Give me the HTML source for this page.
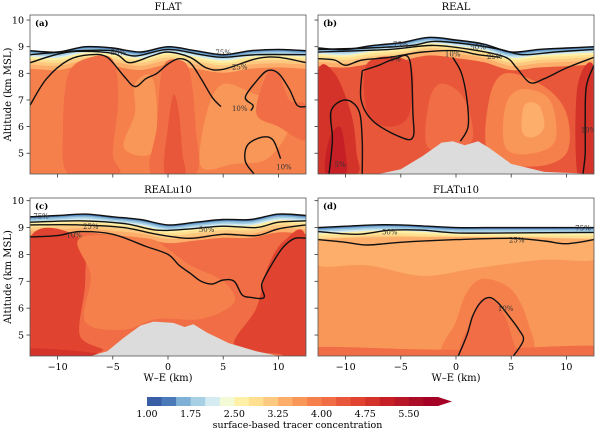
<!DOCTYPE html>
<html><head><meta charset="utf-8"><style>
html,body{margin:0;padding:0;background:#fff}
svg{display:block;font-family:"DejaVu Serif","Liberation Serif",serif}
</style></head><body>
<svg id="fig" width="600" height="433" viewBox="0 0 600 433" xmlns="http://www.w3.org/2000/svg"></svg>
<script>
// ---------- data ----------
const xGrid = [-12.5,-10,-7.5,-5,-2.5,0,2.5,5,7.5,10,12.5];
const topA = [8.85,8.8,9.0,8.95,8.8,9.0,8.85,8.7,8.85,8.9,8.85];
const topB = [8.95,8.9,9.05,9.15,9.35,9.25,9.1,8.8,8.9,8.95,9.0];
const topC = [9.4,9.45,9.5,9.4,9.3,9.1,9.2,9.3,9.3,9.5,9.45];
const topD = [9.0,9.05,9.1,9.1,9.05,9.0,9.0,9.0,9.0,9.0,9.0];
const levels = [1.0,1.25,1.5,1.75,2.0,2.25,2.5,2.75,3.0,3.25,3.5,3.75,4.0,4.25,4.5,4.75,5.0,5.25,5.5,5.75];
const cbTicks = [1.0,1.75,2.5,3.25,4.0,4.75,5.5];
const bandDepth = [0,0.05,0.1,0.16,0.22,0.3,0.4,0.52,0.68];
const bandLevel = [1.25,1.5,1.75,2.0,2.5,2.75,3.0,3.25,3.5];
const baseLevel = {a:3.75,b:4.25,c:4.0,d:3.5};
const patchesA = [
 {lv:4.0,pts:[[-9,4.22],[-9.5,6],[-9,8],[-7,8.6],[-5,8.5],[-4.5,7],[-5,5],[-4.5,4.22]]},
 {lv:3.5,pts:[[-4,5.2],[-3,6.5],[-3,7.6],[-1.5,7.9],[-1,6.5],[-1.5,5]]},
 {lv:3.5,pts:[[3,4.5],[3.5,6.5],[5,7.6],[8,7.2],[10,7.0],[11,6],[9,4.8],[6,4.6]]},
 {lv:4.0,pts:[[-1.5,4.22],[-1,6],[-0.5,8.2],[1,8.5],[2,8],[2.5,6],[2.5,4.22]]},
 {lv:4.25,pts:[[-0.3,4.22],[0,6],[0.5,7.2],[1,6.5],[1.3,5],[1.5,4.22]]},
 {lv:4.0,pts:[[8,6.5],[9,8],[10,8],[11,7],[12.5,6.8],[12.5,5.5],[10,6]]}
];
const patchesB = [
 {lv:4.75,pts:[[-12.5,4.22],[-12.5,8],[-11,8],[-9.5,6.5],[-9,5],[-9,4.22]]},
 {lv:5.0,pts:[[-11.8,4.22],[-11.5,5.5],[-10.5,6],[-10,5],[-10,4.22]]},
 {lv:4.5,pts:[[-8,8.4],[-8,6.5],[-6,6],[-4.2,6.5],[-4.2,8.4]]},
 {lv:4.0,pts:[[-2.5,5.2],[-2.5,6.8],[-1.5,7.6],[0.5,7.2],[1.5,6],[1,5.3]]},
 {lv:3.75,pts:[[3,4.9],[3,7],[4.5,8],[8,7.5],[10,6.5],[10,5],[7,4.5]]},
 {lv:3.5,pts:[[4.5,5.2],[4.5,6.8],[6,7.4],[8.5,7],[9,5.5],[7,5]]},
 {lv:3.25,pts:[[6,5.8],[6.2,6.8],[7.5,6.8],[8,6],[7,5.6]]},
 {lv:4.75,pts:[[11,4.22],[11,7.5],[12.5,8.2],[12.5,4.22]]}
];
const patchesC = [
 {lv:4.5,pts:[[-12.5,4.22],[-12.5,8.6],[-8,8.6],[-7.5,7],[-8,5],[-6,4.4]]},
 {lv:3.75,pts:[[-8,8.6],[-7,7.2],[-7.5,5.5],[-4,5.2],[-1,5.6],[3,5.6],[6,6.2],[5,7],[2,7.6],[0,8.2],[-2,8.6]]},
 {lv:4.5,pts:[[6,4.6],[8,6],[9,7.5],[10.5,8.5],[12.5,8.6],[12.5,4.22],[10,4.3]]},
 {lv:4.75,pts:[[-12.5,4.22],[-12.5,4.5],[-8,4.4],[-6,4.22]]}
];
const patchesD = [
 {lv:3.25,pts:[[-12.5,8.55],[-12.5,7.6],[-8,7.6],[-3,7.2],[2,7.5],[8,7.8],[12.5,7.8],[12.5,8.55]]},
 {lv:3.75,pts:[[-1,4.22],[0,5.5],[1,6.6],[2.5,7.1],[5,6.7],[6.5,5.5],[6.5,4.22]]},
 {lv:4.0,pts:[[0.5,4.22],[1.3,5.5],[2.5,6.4],[4,6],[5,5],[5,4.22]]},
 {lv:4.0,pts:[[-12.5,4.22],[-12.5,4.55],[0,4.45],[12.5,4.6],[12.5,4.22]]}
];
const terrainB = [[-12.5,4.22],[-7,4.22],[-5,4.4],[-3,4.9],[-1.3,5.4],[-0.3,5.45],[0.8,5.3],[2,5.45],[3,5.2],[5,4.6],[8,4.3],[12.5,4.22]];
const terrainC = [[-7,4.22],[-5.5,4.4],[-4,4.9],[-2.5,5.35],[-1.3,5.5],[0.5,5.45],[1.5,5.3],[2.3,5.4],[3.5,5.1],[5.5,4.7],[8,4.4],[10,4.22]];
const contA = [
 {lab:"10%",lx:6.5,lz:6.7,pts:[[-12.5,6.8],[-11,7.8],[-9,8.5],[-7,8.7],[-5.5,8.6],[-4,7.9],[-3,7.5],[-2,7.8],[-1,8.0],[0,8.35],[1,8.55],[2,8.4],[3,7.8],[4,7.1],[4.8,6.75]]},
 {lab:"",pts:[[12.5,6.75],[11.7,6.8],[11,7.4],[10,8.0],[9,8.1],[8,7.7],[7,7.1],[7.7,6.8],[7.5,6.6]]},
 {lab:"10%",lx:10.5,lz:4.5,pts:[[7.8,4.22],[7,4.7],[7.2,5.3],[8.5,5.6],[9.5,5.5],[10.2,4.8]]},
 {lab:"25%",lx:6.5,lz:8.25,pts:[[-12.5,8.4],[-9,8.8],[-5,8.75],[-3.5,8.4],[-1.5,8.65],[0,8.8],[2,8.6],[3.5,8.2],[5,8.15],[8,8.55],[10,8.6],[12.5,8.4]]},
 {lab:"50%",lx:-4.5,lz:8.8,pts:[[-12.5,8.7],[-8,8.85],[-5,8.85],[-3,8.65],[0,8.9],[3,8.7],[5,8.6],[8,8.7],[12.5,8.7]]},
 {lab:"75%",lx:5,lz:8.8,pts:[[-12.5,8.85],[-10,8.8],[-7.5,9.0],[-5,8.95],[-2.5,8.8],[0,9.0],[2.5,8.85],[5,8.7],[7.5,8.85],[10,8.9],[12.5,8.85]]}
];
const contB = [
 {lab:"5%",lx:-5.5,lz:8.55,pts:[[-12.5,8.55],[-11,8.5],[-10,8.3],[-8.5,8.5],[-6,8.6],[-3,8.8],[0,8.85],[2,8.7],[4,8.6]]},
 {lab:"5%",lx:-10.5,lz:4.6,pts:[[-11.5,4.22],[-11.2,5.5],[-11.3,6.6],[-10,7.0],[-8.8,6.6],[-8.5,5.5],[-8.5,4.22]]},
 {lab:"",pts:[[-8.5,8.1],[-8.6,7.0],[-7.5,6.2],[-5,5.6],[-3.9,5.6],[-3.9,6.5],[-4.2,8.5],[-5.5,8.55],[-7,8.3],[-8.5,8.1]]},
 {lab:"10%",lx:-0.3,lz:8.75,pts:[[-0.3,8.6],[0.5,8.0],[1.0,7.0],[1.1,6.0],[0.4,5.45]]},
 {lab:"10%",lx:12,lz:5.9,pts:[[12.5,8.3],[11.8,7.5],[11.7,6.2],[11.7,5],[11.5,4.22]]},
 {lab:"25%",lx:3.5,lz:8.65,pts:[[-12.5,8.8],[-6,8.9],[-2,9.05],[2,8.85],[4.5,8.6],[5.5,8.2],[6.7,7.65],[8,7.8],[10,8.2],[12.5,8.6]]},
 {lab:"50%",lx:2,lz:9.0,pts:[[-12.5,8.9],[-8,8.95],[-4,9.05],[-2,9.2],[1,9.1],[4,8.9],[6,8.7],[9,8.8],[12.5,8.9]]},
 {lab:"75%",lx:-5,lz:9.1,pts:[[-12.5,8.95],[-10,8.9],[-7.5,9.05],[-5,9.15],[-2.5,9.35],[0,9.25],[2.5,9.1],[5,8.8],[7.5,8.9],[10,8.95],[12.5,9.0]]}
];
const contC = [
 {lab:"10%",lx:-8.5,lz:8.75,pts:[[-12.5,8.65],[-10,8.7],[-8,8.85],[-5,8.75],[-2,8.3],[0,8.0],[1,7.6],[2,7.3],[3,7.0],[4,6.9],[5,7.05],[6,7.0],[6.7,6.5],[7.5,6.4],[8.7,6.4],[8.5,6.9],[9.5,7.7],[10.5,8.3],[11.5,8.6],[12.5,8.6]]},
 {lab:"25%",lx:-7,lz:9.05,pts:[[-12.5,9.1],[-8,9.1],[-4,9.0],[-1,8.75],[2,8.6],[5,8.75],[8,8.7],[10,8.95],[12.5,9.1]]},
 {lab:"50%",lx:3.5,lz:8.95,pts:[[-12.5,9.2],[-8,9.25],[-4,9.15],[-1,8.9],[2,8.95],[5,9.05],[8,9.0],[10,9.2],[12.5,9.25]]},
 {lab:"75%",lx:-11.5,lz:9.45,pts:[[-12.5,9.4],[-10,9.45],[-7.5,9.5],[-5,9.4],[-2.5,9.3],[0,9.1],[2.5,9.2],[5,9.3],[7.5,9.3],[10,9.5],[12.5,9.45]]}
];
const contD = [
 {lab:"10%",lx:4.5,lz:6.0,pts:[[0.2,4.22],[1.0,5.0],[1.5,5.7],[2.2,6.2],[3,6.4],[3.8,6.2],[4.8,5.7],[5.7,5.2],[6.1,4.8],[5.2,4.22]]},
 {lab:"25%",lx:5.5,lz:8.55,pts:[[-12.5,8.55],[-10,8.45],[-8,8.35],[-5,8.45],[0,8.55],[5,8.6],[8,8.5],[10,8.4],[12.5,8.55]]},
 {lab:"50%",lx:-6,lz:8.85,pts:[[-12.5,8.85],[-9,8.75],[-6,8.9],[-3,8.9],[0,8.8],[5,8.8],[12.5,8.82]]},
 {lab:"75%",lx:11.5,lz:9.0,pts:[[-12.5,9.0],[-10,9.05],[-7.5,9.1],[-5,9.1],[-2.5,9.05],[0,9.0],[2.5,9.0],[5,9.0],[7.5,9.0],[10,9.0],[12.5,9.0]]}
];
// ---------- rendering ----------
const NS="http://www.w3.org/2000/svg";
const svg=document.getElementById('fig');
const palette=["#3a5ea6","#4a7ab7","#7eb1d5","#a8d0e4","#d4ebf1","#f3fad6","#fef0a7","#fee090","#fdc980","#fcae6a","#f99758","#f6804c","#f06d45","#e9573b","#e04430","#d33328","#c62026","#b81728","#ab0c26","#a50026"];
function col(v){let i=Math.round((v-1)/0.25);return palette[Math.max(0,Math.min(19,i))];}
function el(tag,attrs,parent){const e=document.createElementNS(NS,tag);for(const k in attrs)e.setAttribute(k,attrs[k]);(parent||svg).appendChild(e);return e;}
function smooth(P,closed){
 if(P.length<2)return"";
 let d="M"+P[0][0].toFixed(1)+","+P[0][1].toFixed(1);
 const n=P.length;
 const g=i=>closed?P[(i+n)%n]:P[Math.max(0,Math.min(n-1,i))];
 const m=closed?n:n-1;
 for(let i=0;i<m;i++){const p0=g(i-1),p1=g(i),p2=g(i+1),p3=g(i+2);
  const c1=[p1[0]+(p2[0]-p0[0])/6,p1[1]+(p2[1]-p0[1])/6],c2=[p2[0]-(p3[0]-p1[0])/6,p2[1]-(p3[1]-p1[1])/6];
  d+="C"+c1[0].toFixed(1)+","+c1[1].toFixed(1)+" "+c2[0].toFixed(1)+","+c2[1].toFixed(1)+" "+p2[0].toFixed(1)+","+p2[1].toFixed(1);}
 return d+(closed?"Z":"");
}
const panels=[
 {id:"a",title:"FLAT",L:30,T:15,W:276,H:159,zt:10.19,top:topA,patches:patchesA,terr:null,cont:contA,ylab:true,xlab:false},
 {id:"b",title:"REAL",L:318,T:15,W:276,H:159,zt:10.19,top:topB,patches:patchesB,terr:terrainB,cont:contB,ylab:false,xlab:false},
 {id:"c",title:"REALu10",L:30,T:198,W:276,H:158,zt:10.1,top:topC,patches:patchesC,terr:terrainC,cont:contC,ylab:true,xlab:true},
 {id:"d",title:"FLATu10",L:318,T:198,W:276,H:158,zt:10.1,top:topD,patches:patchesD,terr:null,cont:contD,ylab:false,xlab:true}
];
const zb=4.22;
panels.forEach(p=>{
 const sx=x=>p.L+(x+12.5)/25*p.W;
 const sz=z=>p.T+(p.zt-z)/(p.zt-zb)*p.H;
 const g=el('g',{});
 
 
 const cp=el('clipPath',{id:'clip'+p.id},g);
 el('rect',{x:p.L,y:p.T,width:p.W,height:p.H},cp);
 const inner=el('g',{'clip-path':'url(#clip'+p.id+')'},g);
 el('rect',{x:p.L,y:p.T,width:p.W,height:p.H,fill:'#fff'},inner);
 const base=baseLevel[p.id];
 bandDepth.forEach((dz,i)=>{
  const pts=xGrid.map((x,j)=>[sx(x),sz(p.top[j]-dz)]);
  pts.unshift([sx(-14),pts[0][1]]);pts.push([sx(14),pts[pts.length-1][1]]);
  let d=smooth(pts,false)+"L"+sx(14)+","+(p.T+p.H+5)+"L"+sx(-14)+","+(p.T+p.H+5)+"Z";
  const lv=(i==bandDepth.length-1)?base:bandLevel[i];
  const e=el('path',{d:d,fill:col(lv)},inner);
  
  
 });
 p.patches.forEach(pt=>{
  const e=el('path',{d:smooth(pt.pts.map(q=>[sx(q[0]),sz(q[1])]),true),fill:col(pt.lv)},inner);
  
  
 });
 if(p.terr){
  let d="M"+p.terr.map(q=>sx(q[0]).toFixed(1)+","+sz(q[1]).toFixed(1)).join("L")+"L"+sx(p.terr[p.terr.length-1][0])+","+(p.T+p.H+2)+"L"+sx(p.terr[0][0])+","+(p.T+p.H+2)+"Z";
  const e=el('path',{d:d,fill:'#dcdcdc'},inner);
  
  
 }
 p.cont.forEach(c=>{
  const e=el('path',{d:smooth(c.pts.map(q=>[sx(q[0]),sz(q[1])]),false),fill:'none',stroke:'#111','stroke-width':1.4},inner);
  
  
  if(c.lab){
   const t=el('text',{x:sx(c.lx),y:sz(c.lz)+3,'font-size':7,'text-anchor':'middle',fill:'#333'},inner);
   
   
   t.textContent=c.lab;
  }
 });
 const fr=el('rect',{x:p.L,y:p.T,width:p.W,height:p.H,fill:'none',stroke:'#555','stroke-width':0.8},g);
 
 
 const tl=el('text',{x:p.L+5,y:p.T+11,'font-size':8.5,'font-weight':'bold'},g);
 
 
 tl.textContent='('+p.id+')';
 const tt=el('text',{x:p.L+p.W/2,y:p.T-5,'font-size':10,'text-anchor':'middle'},g);
 
 
 tt.textContent=p.title;
 [5,6,7,8,9,10].forEach(z=>{
  el('line',{x1:p.L-3.5,x2:p.L,y1:sz(z),y2:sz(z),stroke:'#333','stroke-width':0.8},g);
  if(p.ylab){const t=el('text',{x:p.L-6,y:sz(z)+3.5,'font-size':9.5,'text-anchor':'end'},g);
   
   
   t.textContent=z;}
 });
 [-10,-5,0,5,10].forEach(x=>{
  el('line',{x1:sx(x),x2:sx(x),y1:p.T+p.H,y2:p.T+p.H+3.5,stroke:'#333','stroke-width':0.8},g);
  if(p.xlab){const t=el('text',{x:sx(x),y:p.T+p.H+14,'font-size':9.5,'text-anchor':'middle'},g);
   
   
   t.textContent=(x<0?"\u2212"+(-x):x);}
 });
 if(p.ylab){const t=el('text',{transform:'translate(11,'+(p.T+p.H/2)+') rotate(-90)','font-size':10,'text-anchor':'middle'},g);
  
  
  t.textContent='Altitude (km MSL)';}
 if(p.xlab){const t=el('text',{x:p.L+p.W/2,y:p.T+p.H+25,'font-size':10,'text-anchor':'middle'},g);
  
  
  t.textContent='W\u2013E (km)';}
});
// colorbar
const cb=el('g',{});


const cbL=147,cbR=438,cbT=397,cbB=406;
const cx=v=>cbL+(v-1)/5*(cbR-cbL);
levels.forEach(v=>{
 const r=el('rect',{x:cx(v),y:cbT,width:cx(v+0.25)-cx(v)+0.4,height:cbB-cbT,fill:col(v)},cb);
 
 
});
const ar=el('path',{d:`M${cbR},${cbT}L452,${(cbT+cbB)/2}L${cbR},${cbB}Z`,fill:'#a50026'},cb);


cbTicks.forEach(v=>{
 const t=el('text',{x:cx(v),y:cbB+11,'font-size':9.5,'text-anchor':'middle'},cb);
 
 
 t.textContent=v.toFixed(2);
});
const cl=el('text',{x:(cbL+cbR)/2+5,y:cbB+22,'font-size':9.5,'text-anchor':'middle'},cb);


cl.textContent='surface-based tracer concentration';
</script>
</body></html>
